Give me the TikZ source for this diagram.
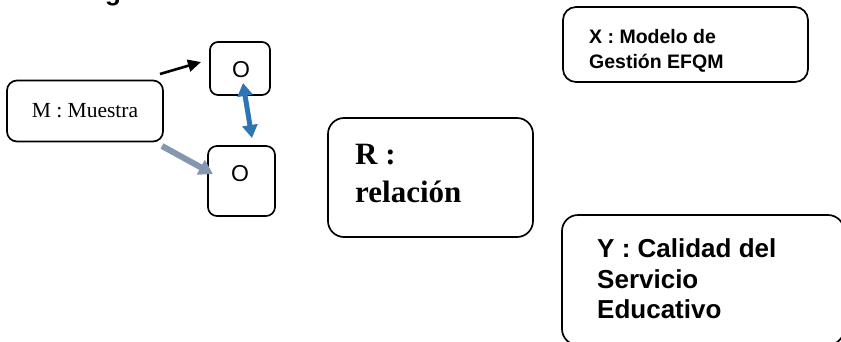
\documentclass[tikz,border=0pt]{standalone}
\usepackage{fontspec}
\setmainfont{Liberation Serif}
\newfontfamily\arialf{Liberation Sans}
\usetikzlibrary{arrows.meta}
\definecolor{relblue}{RGB}{46,117,182}
\definecolor{grayblue}{RGB}{132,151,176}
\tikzset{
  rbox/.style={draw=black, line width=1.7pt, rounded corners=#1, inner sep=0pt},
  rbox/.default=10pt,
  arialtxt/.style={font=\arialf\fontsize{23}{27}\selectfont},
}
\begin{document}
\begin{tikzpicture}[x=1pt,y=-1pt]
\useasboundingbox (0,0) rectangle (841,341);
\clip (0,0) rectangle (841,341);
% clipped heading fragment
\node[anchor=base, inner sep=0pt, font=\arialf\bfseries\fontsize{26}{30}\selectfont] (head) at (113,0.5) {g};
% boxes
\node[rbox=10pt, minimum width=156pt, minimum height=61pt, font=\fontsize{21.5}{25}\selectfont] (M) at (85,111) {M : Muestra};
\node[rbox=8pt, minimum width=60pt, minimum height=53pt] (O1) at (240,68.5) {};
\node[anchor=base, inner sep=0pt, arialtxt] (O1t) at (241,77) {O};
\node[rbox=9pt, minimum width=67pt, minimum height=70pt] (O2) at (241.5,181) {};
\node[anchor=base, inner sep=0pt, arialtxt] (O2t) at (240,181) {O};
\node[rbox=16pt, minimum width=205pt, minimum height=119pt] (R) at (430.5,177.5) {};
\node[rbox=13pt, minimum width=245pt, minimum height=75pt] (X) at (685.5,44.5) {};
\node[rbox=16pt, minimum width=282pt, minimum height=130pt] (Y) at (703,280) {};
% texts
\node[anchor=base west, inner sep=0pt, font=\bfseries\fontsize{31}{35}\selectfont] (Rt1) at (355,164) {R :};
\node[anchor=base west, inner sep=0pt, font=\bfseries\fontsize{31}{35}\selectfont] (Rt2) at (355,202) {relación};
\node[anchor=base west, inner sep=0pt, font=\arialf\bfseries\fontsize{19.5}{23}\selectfont] (Xt1) at (589,43) {X : Modelo de};
\node[anchor=base west, inner sep=0pt, font=\arialf\bfseries\fontsize{19.5}{23}\selectfont] (Xt2) at (589,68) {Gestión EFQM};
\node[anchor=base west, inner sep=0pt, font=\arialf\bfseries\fontsize{26}{30}\selectfont] (Yt1) at (597,257) {Y : Calidad del};
\node[anchor=base west, inner sep=0pt, font=\arialf\bfseries\fontsize{26}{30}\selectfont] (Yt2) at (597,288) {Servicio};
\node[anchor=base west, inner sep=0pt, font=\arialf\bfseries\fontsize{26}{30}\selectfont] (Yt3) at (597,318) {Educativo};
% arrow end points
\coordinate (a1s) at (160,74);
\coordinate (a1e) at (201,62);
\coordinate (b1) at (243,83);
\coordinate (b2) at (252,138);
\coordinate (g1) at (162,146);
\coordinate (g2) at (213,174);
\draw[line width=2.6pt, -{Triangle[length=13pt,width=12pt]}] (a1s) -- (a1e);
\draw[relblue, line width=5pt, {Triangle[length=13pt,width=15pt]}-{Triangle[length=13pt,width=15pt]}] (b1) -- (b2);
\draw[grayblue, line width=6pt, -{Triangle[length=14pt,width=16pt]}] (g1) -- (g2);
\end{tikzpicture}
\end{document}
